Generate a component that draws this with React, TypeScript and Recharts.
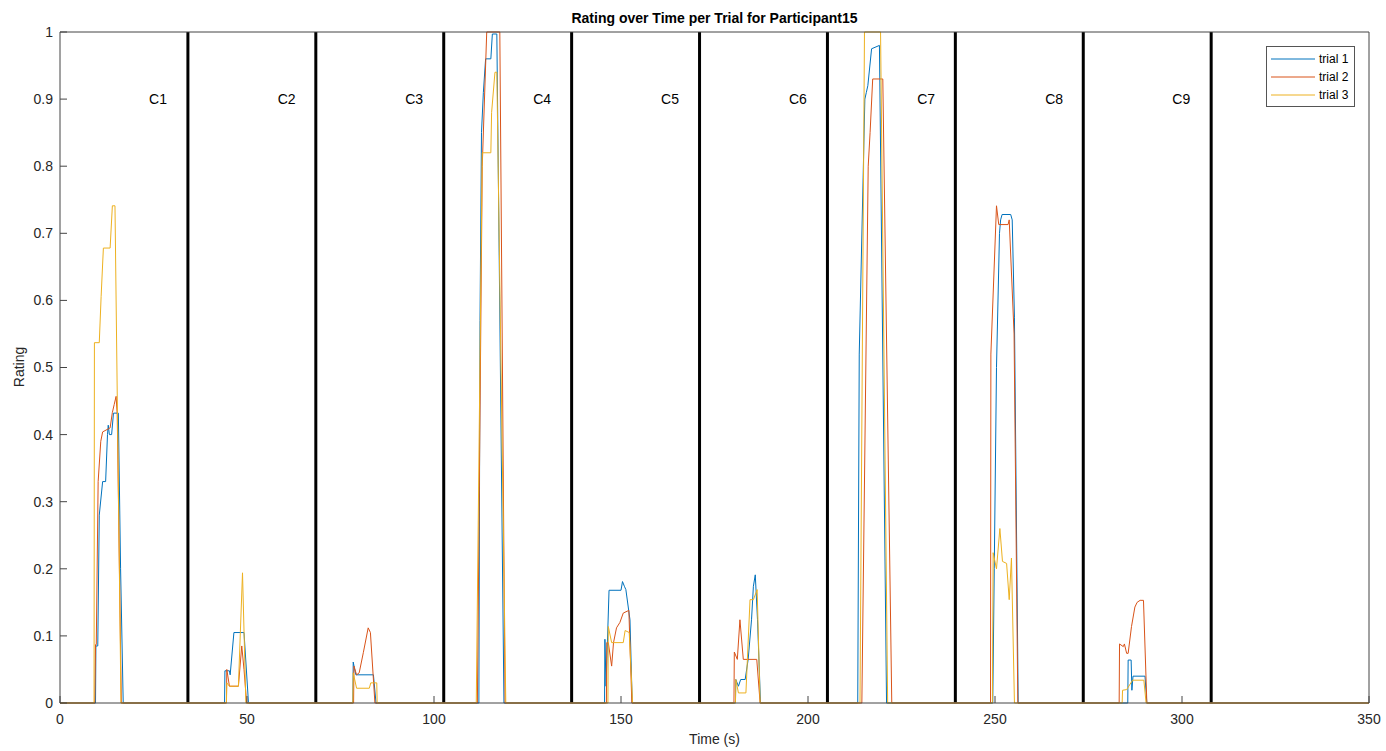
import { LineChart, Line, XAxis, YAxis, ReferenceLine, ReferenceDot, Legend } from "recharts";

// Rating traces per trial: [time (s), rating]
const trial1: [number, number][] = [
  [0, 0],
  [9.5, 0], [9.6, 0.085], [10.1, 0.085], [10.5, 0.28], [11.4, 0.33], [12.2, 0.33], [12.7, 0.4], [12.9, 0.414], [13.2, 0.4], [13.8, 0.4], [14.3, 0.432], [15.6, 0.432], [16.2, 0.2], [16.9, 0],
  [44.0, 0], [44.1, 0.048], [45.3, 0.048], [45.5, 0.042], [46.5, 0.105], [49.2, 0.105], [50.4, 0],
  [78.3, 0], [78.4, 0.061], [79.1, 0.042], [83.8, 0.042], [84.5, 0],
  [112.0, 0], [112.3, 0.57], [112.7, 0.85], [113.2, 0.91], [113.8, 0.96], [115.2, 0.96], [115.6, 0.997], [116.8, 0.997], [118.7, 0],
  [145.6, 0], [145.7, 0.095], [146.0, 0.025], [146.8, 0.168], [150.0, 0.168], [150.4, 0.181], [150.9, 0.174], [151.3, 0.169], [152.4, 0.124], [153.0, 0],
  [180.6, 0], [180.7, 0.035], [181.4, 0.025], [182.0, 0.035], [183.2, 0.035], [184.0, 0.065], [184.9, 0.124], [185.4, 0.174], [185.9, 0.191], [186.5, 0.124], [187.3, 0],
  [213.3, 0], [213.7, 0.52], [215.2, 0.9], [215.6, 0.91], [216.0, 0.92], [217.0, 0.975], [219.1, 0.98], [221.0, 0],
  [249.4, 0], [249.8, 0.2], [250.4, 0.5], [251.2, 0.7], [251.5, 0.72], [251.9, 0.728], [254.2, 0.728], [254.6, 0.72], [255.2, 0.574], [256.2, 0],
  [285.5, 0], [285.6, 0.064], [286.4, 0.064], [286.6, 0.019], [286.9, 0.04], [290.1, 0.04], [290.6, 0],
  [350, 0],
];

const trial2: [number, number][] = [
  [0, 0],
  [9.3, 0], [9.5, 0.087], [9.7, 0.087], [10.2, 0.33], [10.9, 0.39], [11.4, 0.404], [13.4, 0.41], [14.0, 0.433], [14.5, 0.445], [15.0, 0.457], [15.3, 0.43], [16.4, 0],
  [44.5, 0], [44.6, 0.05], [45.3, 0.025], [47.7, 0.025], [48.6, 0.085], [49.2, 0.05], [49.9, 0],
  [78.5, 0], [78.6, 0.055], [79.3, 0.042], [80.0, 0.045], [81.1, 0.075], [82.4, 0.112], [83.0, 0.105], [84.2, 0],
  [111.6, 0], [112.9, 0.8], [114.1, 1.0], [117.6, 1.0], [119.0, 0],
  [146.1, 0], [146.2, 0.09], [146.6, 0.09], [147.5, 0.055], [148.0, 0.09], [148.8, 0.112], [149.7, 0.12], [150.6, 0.134], [152.1, 0.138], [152.9, 0],
  [180.2, 0], [180.3, 0.076], [181.1, 0.065], [181.8, 0.124], [182.7, 0.065], [186.3, 0.065], [187.2, 0],
  [214.4, 0], [216.1, 0.8], [216.6, 0.85], [217.3, 0.93], [220.0, 0.93], [222.4, 0],
  [248.8, 0], [248.9, 0.52], [250.4, 0.741], [251.0, 0.713], [253.5, 0.713], [253.8, 0.72], [255.1, 0.55], [256.1, 0],
  [283.2, 0], [283.3, 0.088], [284.3, 0.084], [284.6, 0.088], [285.2, 0.074], [285.6, 0.074], [286.5, 0.114], [287.4, 0.143], [288.0, 0.15], [288.8, 0.153], [289.7, 0.153], [290.6, 0],
  [350, 0],
];

const trial3: [number, number][] = [
  [0, 0],
  [9.1, 0], [9.2, 0.537], [10.5, 0.537], [11.0, 0.606], [11.6, 0.678], [13.4, 0.678], [14.0, 0.741], [14.7, 0.741], [16.3, 0],
  [44.5, 0], [44.6, 0.03], [45.3, 0.025], [47.7, 0.025], [48.8, 0.194], [49.7, 0],
  [78.3, 0], [78.4, 0.045], [79.3, 0.022], [82.7, 0.022], [83.1, 0.03], [84.7, 0.03], [84.8, 0],
  [111.3, 0], [112.9, 0.82], [115.2, 0.82], [115.4, 0.88], [116.3, 0.94], [116.8, 0.94], [119.2, 0],
  [146.5, 0], [146.6, 0.114], [147.5, 0.09], [150.6, 0.09], [151.1, 0.108], [152.2, 0.105], [153.1, 0],
  [180.6, 0], [180.7, 0.035], [181.4, 0.015], [183.4, 0.015], [184.5, 0.154], [185.4, 0.154], [186.4, 0.169], [187.2, 0],
  [213.9, 0], [215.1, 1.0], [219.4, 1.0], [221.3, 0],
  [249.3, 0], [249.5, 0.224], [250.4, 0.2], [251.3, 0.26], [252.0, 0.211], [253.1, 0.208], [253.8, 0.154], [254.4, 0.216], [255.2, 0],
  [284.0, 0], [284.1, 0.019], [285.2, 0.02], [286.8, 0.034], [289.8, 0.034], [290.4, 0],
  [350, 0],
];

const trialNames = ["trial 1", "trial 2", "trial 3"];
const trialColors = ["#0072BD", "#D95319", "#EDB120"];

// condition boundaries and labels
const conditionBounds = [34.2, 68.4, 102.6, 136.8, 171.0, 205.2, 239.4, 273.6, 307.8];
const conditionNames = ["C1", "C2", "C3", "C4", "C5", "C6", "C7", "C8", "C9"];
const conditionLabelX = [26.2, 60.6, 94.7, 128.9, 163.1, 197.3, 231.6, 265.8, 299.8];
const conditionLabelY = 0.9;

const xTicks = [0, 50, 100, 150, 200, 250, 300, 350];
const yTicks = [0, 0.1, 0.2, 0.3, 0.4, 0.5, 0.6, 0.7, 0.8, 0.9, 1];

const FONT = '"Liberation Sans", Arial, Helvetica, sans-serif';
const AXIS = "#444";

const toPoints = (arr: [number, number][]) => arr.map(([t, v]) => ({ t, v }));
const series = [trial1, trial2, trial3].map(toPoints);

function LegendBox() {
  return (
    <div
      style={{
        border: "1px solid #555",
        background: "#fff",
        width: 87,
        padding: "3px 0 2px 0",
        fontFamily: FONT,
        fontSize: 12,
        color: "#000",
      }}
    >
      {trialNames.map((name, i) => (
        <div key={name} style={{ display: "flex", alignItems: "center", height: 18 }}>
          <svg width={52} height={18}>
            <line x1={4} x2={48} y1={9} y2={9} stroke={trialColors[i]} strokeWidth={1} />
          </svg>
          <span>{name}</span>
        </div>
      ))}
    </div>
  );
}

export default function App() {
  return (
    <div style={{ position: "absolute", left: 0, top: 0, width: 1386, height: 751, background: "#fff", fontFamily: FONT }}>
      <LineChart width={1386} height={751} margin={{ top: 31, right: 16, bottom: 0, left: 0 }}>
        <XAxis
          dataKey="t"
          type="number"
          domain={[0, 350]}
          ticks={xTicks}
          interval={0}
          height={48}
          tickSize={-7}
          tickMargin={18}
          stroke={AXIS}
          tick={{ fill: "#262626", fontSize: 14, fontFamily: FONT }}
        />
        <XAxis
          xAxisId="top"
          orientation="top"
          type="number"
          domain={[0, 350]}
          ticks={xTicks}
          interval={0}
          height={1}
          tickSize={-7}
          stroke={AXIS}
          tick={() => <g />}
        />
        <YAxis
          type="number"
          domain={[0, 1]}
          ticks={yTicks}
          interval={0}
          width={60}
          tickSize={-7}
          tickMargin={14}
          stroke={AXIS}
          tickFormatter={(v: number) => String(Number(v.toFixed(1)))}
          tick={{ fill: "#262626", fontSize: 14, fontFamily: FONT }}
        />
        <YAxis
          yAxisId="right"
          orientation="right"
          type="number"
          domain={[0, 1]}
          ticks={yTicks}
          interval={0}
          width={1}
          tickSize={-7}
          stroke={AXIS}
          tick={() => <g />}
        />

        {conditionBounds.map((b) => (
          <ReferenceLine key={b} x={b} stroke="#000" strokeWidth={3} />
        ))}
        {conditionNames.map((name, i) => (
          <ReferenceDot
            key={name}
            x={conditionLabelX[i]}
            y={conditionLabelY}
            r={0}
            fill="none"
            stroke="none"
            label={{ value: name, position: "center", fill: "#000", fontSize: 14, fontFamily: FONT }}
          />
        ))}

        {series.map((data, i) => (
          <Line
            key={trialNames[i]}
            data={data}
            dataKey="v"
            name={trialNames[i]}
            type="linear"
            stroke={trialColors[i]}
            strokeWidth={1}
            dot={false}
            activeDot={false}
            isAnimationActive={false}
          />
        ))}

        <Legend
          layout="vertical"
          align="center"
          verticalAlign="middle"
          wrapperStyle={{ left: 1266, top: 46, width: 89, height: 60 }}
          content={() => <LegendBox />}
        />
      </LineChart>

      <div style={{ position: "absolute", left: 60, width: 1309, top: 10, textAlign: "center", fontSize: 14, fontWeight: "bold", color: "#000" }}>
        Rating over Time per Trial for Participant15
      </div>
      <div style={{ position: "absolute", left: 60, width: 1309, top: 731, textAlign: "center", fontSize: 14, color: "#262626" }}>
        Time (s)
      </div>
      <div
        style={{
          position: "absolute",
          left: 19,
          top: 367,
          transform: "translate(-50%, -50%) rotate(-90deg)",
          fontSize: 14,
          color: "#262626",
          whiteSpace: "nowrap",
        }}
      >
        Rating
      </div>
    </div>
  );
}
